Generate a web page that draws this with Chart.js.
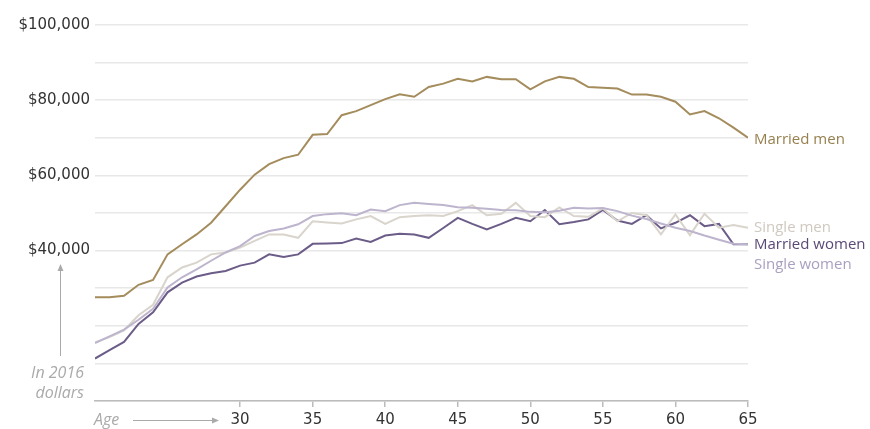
<!DOCTYPE html>
<html lang="en">
<head>
  <meta charset="UTF-8" />
  <title>Median earnings by age and marital status</title>
  <script src="https://cdn.jsdelivr.net/npm/chart.js"></script>
  <style>
    body {
      margin: 0;
      background: #ffffff;
    }
    .wrap {
      position: relative;
      width: 870px;
      height: 429px;
    }
  </style>
</head>
<body>

<div class="wrap">
  <canvas id="grafik"></canvas>
</div>

<script>
// age, 20 to 65
const ages = [20, 21, 22, 23, 24, 25, 26, 27, 28, 29, 30, 31, 32, 33, 34, 35, 36, 37, 38, 39, 40, 41, 42,
  43, 44, 45, 46, 47, 48, 49, 50, 51, 52, 53, 54, 55, 56, 57, 58, 59, 60, 61, 62, 63, 64, 65];

// earnings in thousands of 2016 dollars
const marriedMen = [27.6, 27.6, 28.0, 30.9, 32.2, 39.0, 41.7, 44.3, 47.4, 51.8, 56.2, 60.2, 63.0, 64.6, 65.5,
  70.8, 71.0, 76.0, 77.1, 78.7, 80.3, 81.6, 80.9, 83.5, 84.4, 85.7, 85.0, 86.2, 85.6, 85.6, 82.9, 85.0, 86.2,
  85.7, 83.5, 83.3, 83.1, 81.5, 81.5, 80.9, 79.6, 76.2, 77.1, 75.2, 72.7, 70.0];
const singleMen = [15.6, 17.0, 18.8, 22.8, 25.6, 32.9, 35.5, 36.8, 39.0, 39.5, 40.8, 42.6, 44.3, 44.3, 43.4,
  47.8, 47.5, 47.2, 48.3, 49.2, 47.1, 48.9, 49.2, 49.4, 49.2, 50.5, 52.1, 49.4, 49.8, 52.7, 49.2, 48.9, 51.5,
  49.2, 49.0, 51.2, 47.8, 50.0, 49.4, 44.3, 49.6, 44.1, 49.8, 46.1, 46.8, 46.1];
const marriedWomen = [11.3, 13.5, 15.7, 20.5, 23.6, 28.9, 31.5, 33.1, 34.0, 34.6, 36.0, 36.8, 39.0, 38.3, 39.0,
  41.8, 41.9, 42.0, 43.2, 42.3, 44.0, 44.5, 44.3, 43.4, 46.0, 48.7, 47.1, 45.6, 47.1, 48.7, 47.8, 50.8, 47.0,
  47.6, 48.3, 50.8, 48.0, 47.1, 49.4, 45.9, 47.4, 49.4, 46.5, 47.1, 41.7, 41.7];
const singleWomen = [15.4, 17.2, 19.0, 21.6, 24.5, 30.2, 32.9, 35.0, 37.3, 39.5, 41.2, 43.9, 45.2, 45.9, 47.0,
  49.2, 49.7, 49.9, 49.4, 50.9, 50.5, 52.1, 52.7, 52.4, 52.1, 51.5, 51.4, 51.1, 50.8, 50.7, 50.3, 50.2, 50.6,
  51.4, 51.2, 51.3, 50.5, 49.3, 48.4, 47.2, 46.1, 45.2, 44.0, 42.9, 41.8, 41.7];

const xTicks = [30, 35, 40, 45, 50, 55, 60, 65];
const yLabels = [40, 60, 80, 100];

const seri = [
  { label: 'Single women', data: singleWomen, color: '#bdb4cd', text: '#aa9fc0', dy: 21 },
  { label: 'Single men', data: singleMen, color: '#d9d4cc', text: '#cfc9c0', dy: 0 },
  { label: 'Married women', data: marriedWomen, color: '#6c5c88', text: '#5a4877', dy: 1 },
  { label: 'Married men', data: marriedMen, color: '#a48c5c', text: '#97804f', dy: 2 }
];

const FONT = "'Open Sans', sans-serif";
const NUMFONT = "'DejaVu Sans', sans-serif";

function toPoints(arr) {
  return ages.map((a, i) => ({ x: a, y: arr[i] }));
}

// series names at the right end, and the "Age" / "In 2016 dollars" notes
const catatan = {
  id: 'catatan',
  afterDraw(chart) {
    const ctx = chart.ctx;
    const xs = chart.scales.x, ys = chart.scales.y;
    ctx.save();
    ctx.font = '15px ' + FONT;
    ctx.textBaseline = 'middle';
    ctx.textAlign = 'left';
    seri.forEach(s => {
      const last = s.data[s.data.length - 1];
      ctx.fillStyle = s.text;
      ctx.fillText(s.label, xs.getPixelForValue(65) + 6, ys.getPixelForValue(last) + s.dy);
    });

    ctx.fillStyle = '#aaaaaa';
    ctx.strokeStyle = '#aaaaaa';
    ctx.lineWidth = 1;
    ctx.font = 'italic 16px ' + FONT;
    ctx.fillText('Age', 94, 420);

    // arrow after "Age"
    ctx.beginPath();
    ctx.moveTo(133, 420.5);
    ctx.lineTo(214, 420.5);
    ctx.stroke();
    ctx.beginPath();
    ctx.moveTo(219, 420.5);
    ctx.lineTo(212, 417.5);
    ctx.lineTo(212, 423.5);
    ctx.closePath();
    ctx.fill();

    ctx.textAlign = 'right';
    ctx.fillText('In 2016', 84, 373);
    ctx.fillText('dollars', 84, 393);

    // arrow going up
    ctx.beginPath();
    ctx.moveTo(60.5, 356);
    ctx.lineTo(60.5, 270);
    ctx.stroke();
    ctx.beginPath();
    ctx.moveTo(60.5, 264);
    ctx.lineTo(57.5, 271);
    ctx.lineTo(63.5, 271);
    ctx.closePath();
    ctx.fill();
    ctx.restore();
  }
};

new Chart(document.getElementById('grafik'), {
  type: 'line',
  data: {
    datasets: seri.map(s => ({
      label: s.label,
      data: toPoints(s.data),
      borderColor: s.color,
      borderWidth: 2,
      pointRadius: 0,
      tension: 0,
      fill: false
    }))
  },
  options: {
    responsive: true,
    maintainAspectRatio: false,
    animation: false,
    layout: { padding: { left: 0, right: 122, top: 25, bottom: 0 } },
    plugins: {
      legend: { display: false },
      tooltip: { enabled: false }
    },
    scales: {
      x: {
        type: 'linear',
        min: 20,
        max: 65,
        afterBuildTicks: scale => { scale.ticks = xTicks.map(v => ({ value: v })); },
        afterFit: scale => { scale.height = 28; },
        ticks: {
          color: '#333333',
          font: { family: NUMFONT, size: 15 },
          padding: 4,
          maxRotation: 0,
          autoSkip: false
        },
        grid: { drawOnChartArea: false, drawTicks: true, tickLength: 6, color: '#bbbbbb', lineWidth: 1.5 },
        border: { display: true, color: '#bbbbbb', width: 1.5 }
      },
      y: {
        min: 0,
        max: 100,
        afterFit: scale => { scale.width = 95; },
        ticks: {
          stepSize: 10,
          color: '#333333',
          font: { family: NUMFONT, size: 15 },
          padding: 5,
          callback: v => yLabels.includes(v) ? '$' + v + ',000' : ''
        },
        grid: { color: '#e8e8e8', lineWidth: 1.5, drawTicks: false },
        border: { display: false }
      }
    }
  },
  plugins: [catatan]
});
</script>

</body>
</html>
